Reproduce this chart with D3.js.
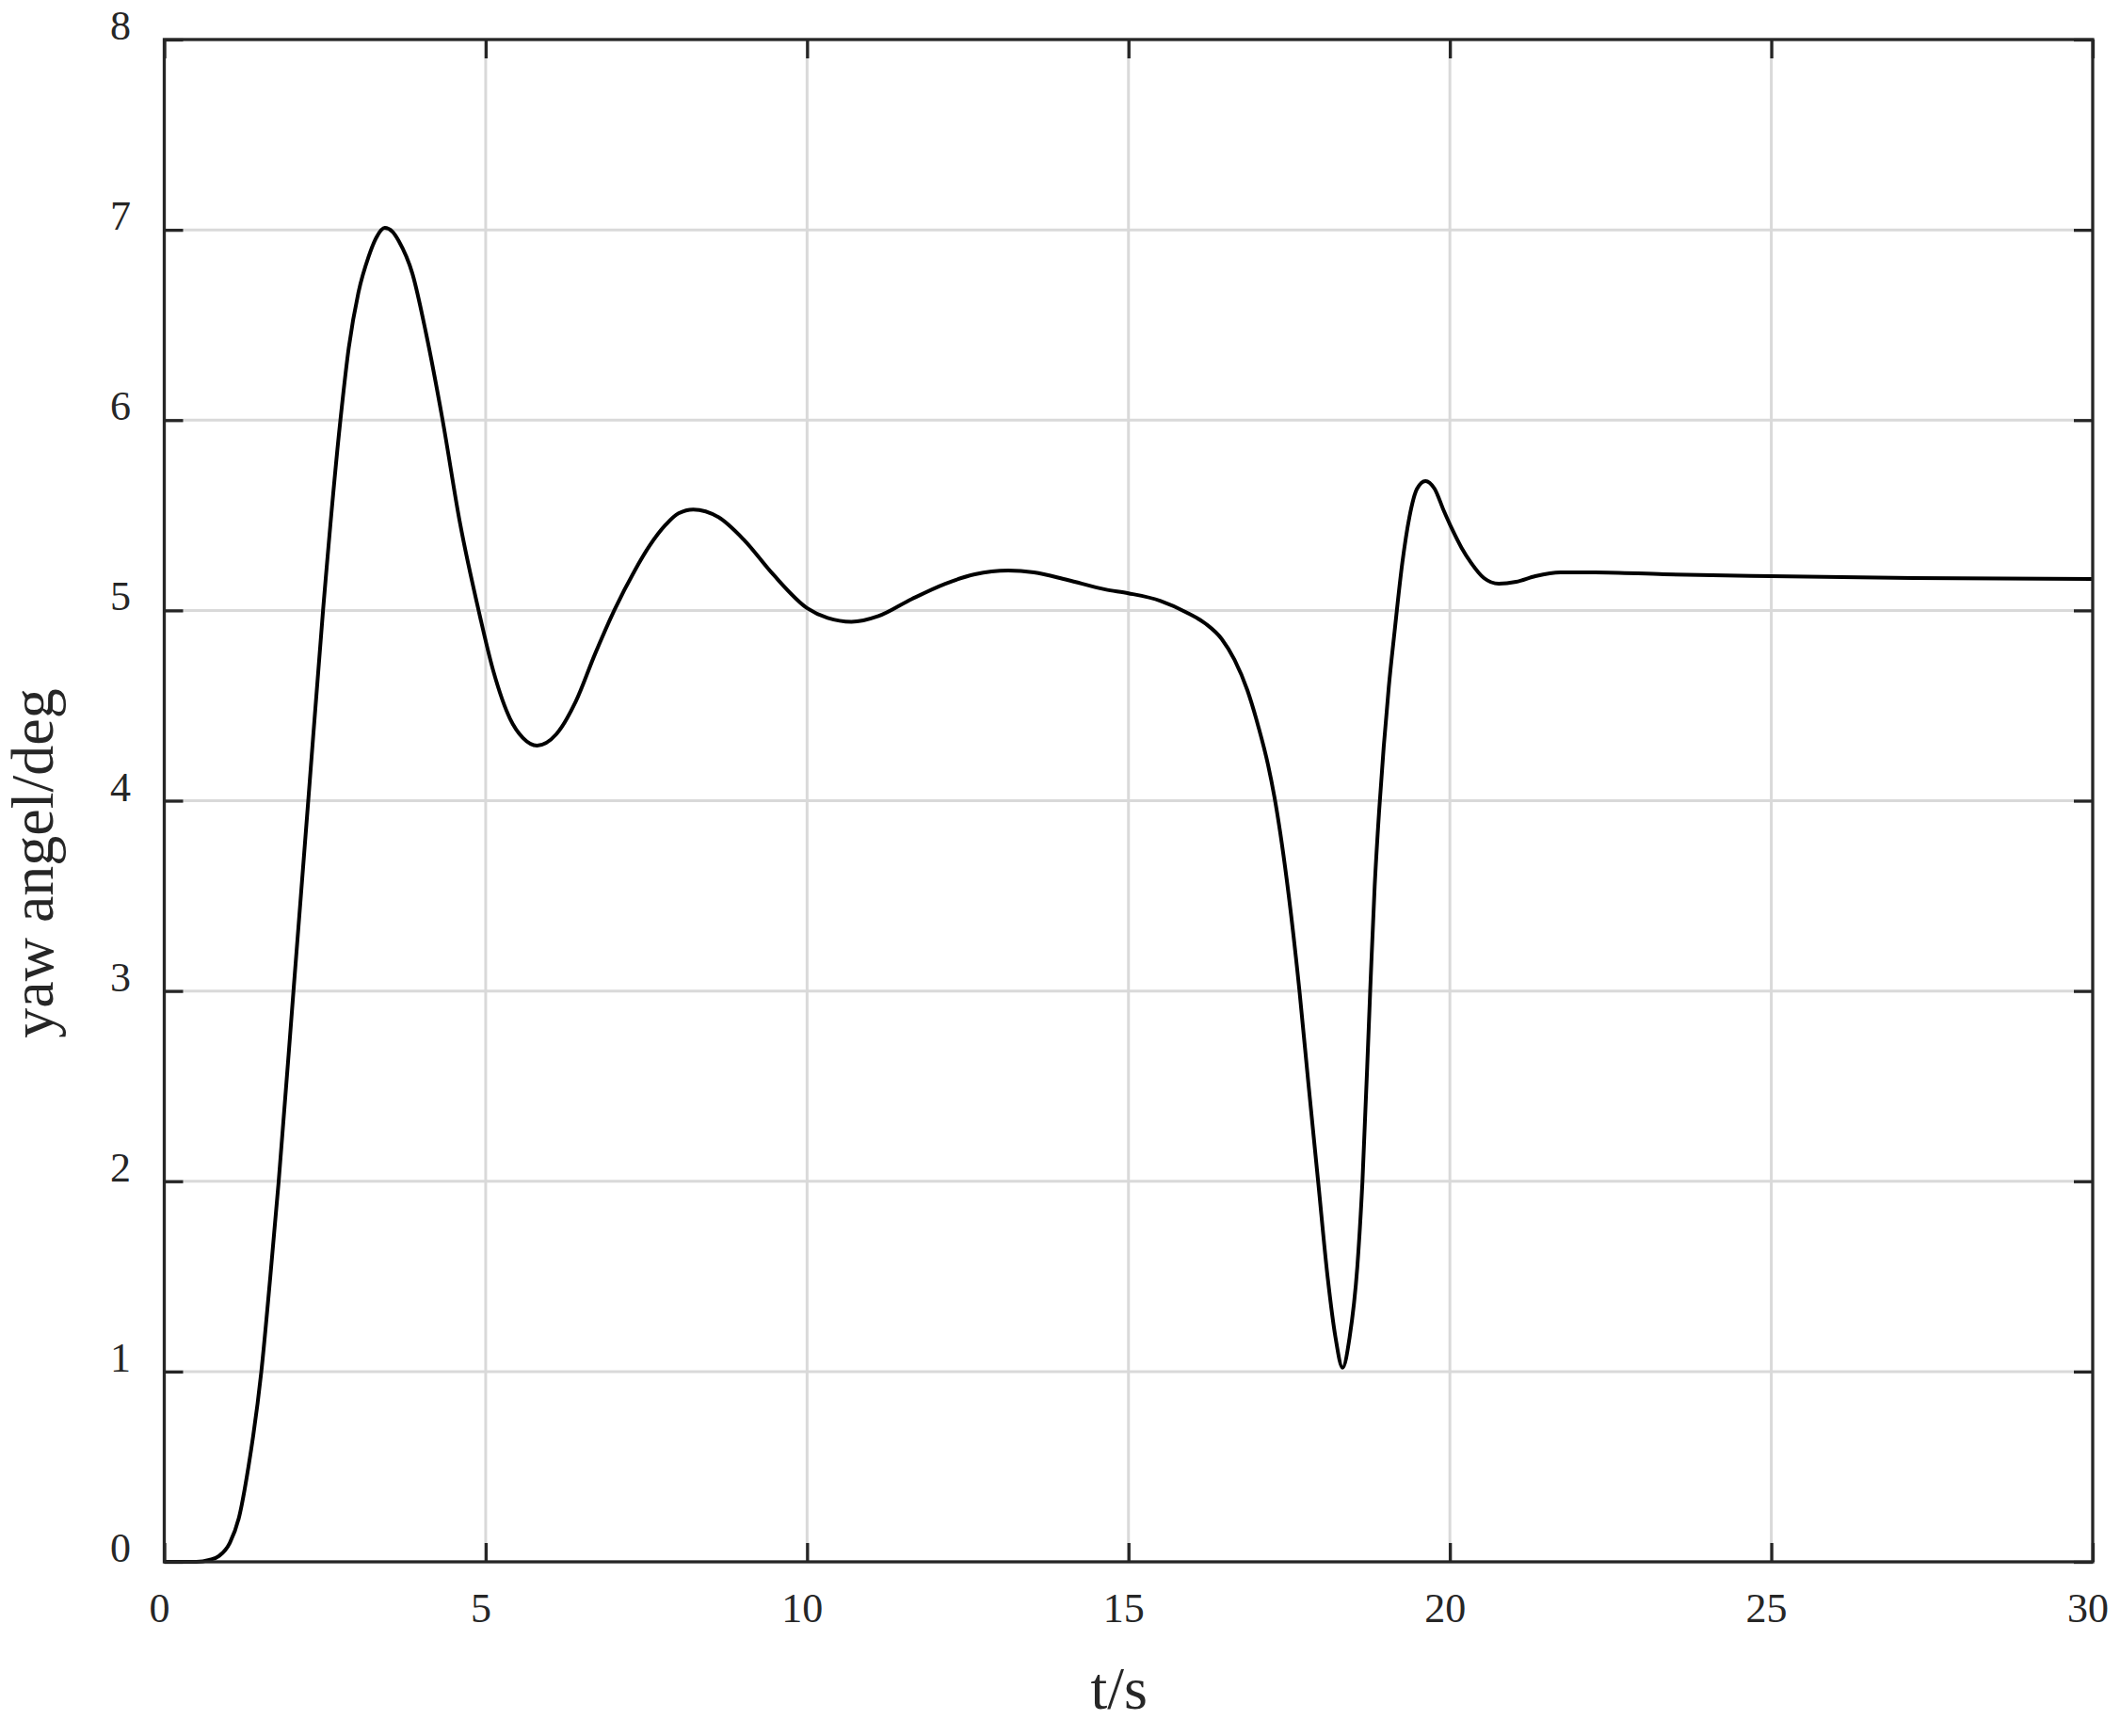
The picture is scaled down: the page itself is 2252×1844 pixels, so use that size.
<!DOCTYPE html>
<html>
<head>
<meta charset="utf-8">
<script src="https://cdn.jsdelivr.net/npm/d3@7"></script>
<style>
  html, body { margin: 0; padding: 0; background: #fff; }
  svg { display: block; }
</style>
</head>
<body>
<script>
// ---- data ----
const timeS = [0, 0.5, 0.7, 0.85, 1.02, 1.16, 1.31, 1.51, 1.65, 1.78, 2.01, 2.24, 2.47,
  2.74, 2.87, 3.02, 3.18, 3.30, 3.43, 3.55, 3.65, 3.86, 4.07, 4.33, 4.60, 4.89, 5.12, 5.38, 5.58,
  5.80, 6.1, 6.4, 6.7, 7.0, 7.32, 7.55, 7.8, 8.0, 8.23, 8.62, 9.02, 9.47, 10.01, 10.32, 10.69, 11.11,
  11.63, 12.15, 12.61, 13.13, 13.53, 14.05, 14.64, 15.0, 15.5, 15.9, 16.2, 16.45, 16.65, 16.85, 17.02,
  17.17, 17.27, 17.46, 17.66, 17.80, 17.95, 18.1, 18.22, 18.33, 18.44, 18.56, 18.64, 18.76, 18.83,
  18.9, 18.97, 19.05, 19.14, 19.26, 19.37, 19.49, 19.62, 19.76, 19.91, 20.03, 20.18, 20.33, 20.53,
  20.76, 21.03, 21.33, 21.72, 22.26, 23.33, 25.0, 27.2, 30];
const yawDeg = [0, 0, 0.01, 0.03, 0.1, 0.23, 0.5, 1.0, 1.5, 2.0, 3.0, 4.0, 5.0,
  6.0, 6.38, 6.67, 6.86, 6.96, 7.01, 6.99, 6.94, 6.77, 6.46, 6.0, 5.46, 5.0, 4.68, 4.43, 4.33,
  4.29, 4.35, 4.52, 4.77, 5.0, 5.21, 5.34, 5.45, 5.51, 5.53, 5.49, 5.37, 5.19, 5.01, 4.96, 4.94, 4.97,
  5.06, 5.14, 5.19, 5.21, 5.20, 5.16, 5.11, 5.09, 5.05, 4.99, 4.93, 4.85, 4.74, 4.58, 4.39,
  4.19, 4.02, 3.59, 3.0, 2.51, 2.0, 1.49, 1.18, 1.02, 1.18, 1.55, 2.0, 3.0, 3.55,
  3.95, 4.28, 4.6, 4.89, 5.25, 5.49, 5.64, 5.68, 5.64, 5.52, 5.43, 5.33, 5.25, 5.17,
  5.14, 5.15, 5.18, 5.20, 5.20, 5.19, 5.18, 5.17, 5.165];
const xTicks = [0, 5, 10, 15, 20, 25, 30];
const yTicks = [0, 1, 2, 3, 4, 5, 6, 7, 8];
const xLabel = "t/s";
const yLabel = "yaw angel/deg";

// ---- layout ----
const W = 2252, H = 1844;
const L = 174.5, R = 2223, T = 42, B = 1659;
const axisColor = "#262626";
const font = "'Liberation Serif', 'Times New Roman', serif";

const svg = d3.select("body").append("svg").attr("width", W).attr("height", H);
svg.append("rect").attr("width", W).attr("height", H).attr("fill", "#fff");

const x = d3.scaleLinear().domain([0, 30]).range([L, R]);
const y = d3.scaleLinear().domain([0, 8]).range([B, T]);

// grid
const grid = svg.append("g");
grid.selectAll("line.gx").data(xTicks.slice(1, -1)).join("line")
  .attr("x1", d => x(d)).attr("x2", d => x(d)).attr("y1", T).attr("y2", B)
  .attr("stroke", "#d9d9d9").attr("stroke-width", 3);
grid.selectAll("line.gy").data(yTicks.slice(1, -1)).join("line")
  .attr("y1", d => y(d)).attr("y2", d => y(d)).attr("x1", L).attr("x2", R)
  .attr("stroke", "#d9d9d9").attr("stroke-width", 3);

// axes with inward ticks
const tickLen = 20;
function styleAxis(g) {
  g.select(".domain").remove();
  g.selectAll(".tick line").attr("stroke", axisColor).attr("stroke-width", 3.3);
  g.selectAll(".tick text").remove();
}
svg.append("g").attr("transform", `translate(0,${B})`)
  .call(d3.axisBottom(x).tickValues(xTicks).tickSize(-tickLen)).call(styleAxis);
svg.append("g").attr("transform", `translate(0,${T})`)
  .call(d3.axisTop(x).tickValues(xTicks).tickSize(-tickLen)).call(styleAxis);
svg.append("g").attr("transform", `translate(${L},0)`)
  .call(d3.axisLeft(y).tickValues(yTicks).tickSize(-tickLen)).call(styleAxis);
svg.append("g").attr("transform", `translate(${R},0)`)
  .call(d3.axisRight(y).tickValues(yTicks).tickSize(-tickLen)).call(styleAxis);

// tick labels
svg.append("g").selectAll("text").data(xTicks).join("text")
  .attr("x", d => x(d) - 5).attr("y", 1723)
  .attr("text-anchor", "middle")
  .attr("font-family", font).attr("font-size", 44).attr("fill", axisColor)
  .text(d => d);
svg.append("g").selectAll("text").data(yTicks).join("text")
  .attr("x", 139).attr("y", d => y(d))
  .attr("text-anchor", "end")
  .attr("font-family", font).attr("font-size", 44).attr("fill", axisColor)
  .text(d => d);

// curve
const pts = timeS.map((t, i) => [t, yawDeg[i]]);
const line = d3.line().x(d => x(d[0])).y(d => y(d[1])).curve(d3.curveMonotoneX);
svg.append("path").datum(pts)
  .attr("d", line).attr("fill", "none")
  .attr("stroke", "#000").attr("stroke-width", 4).attr("stroke-linejoin", "round");

// frame
svg.append("rect").attr("x", L).attr("y", T).attr("width", R - L).attr("height", B - T)
  .attr("fill", "none").attr("stroke", axisColor).attr("stroke-width", 3.3);

// axis labels
svg.append("text")
  .attr("x", (L + R) / 2 - 10).attr("y", 1815)
  .attr("text-anchor", "middle")
  .attr("font-family", font).attr("font-size", 64).attr("fill", axisColor)
  .text(xLabel);
svg.append("text")
  .attr("transform", `translate(56,917) rotate(-90)`)
  .attr("text-anchor", "middle")
  .attr("font-family", font).attr("font-size", 64).attr("fill", axisColor)
  .text(yLabel);
</script>
</body>
</html>
